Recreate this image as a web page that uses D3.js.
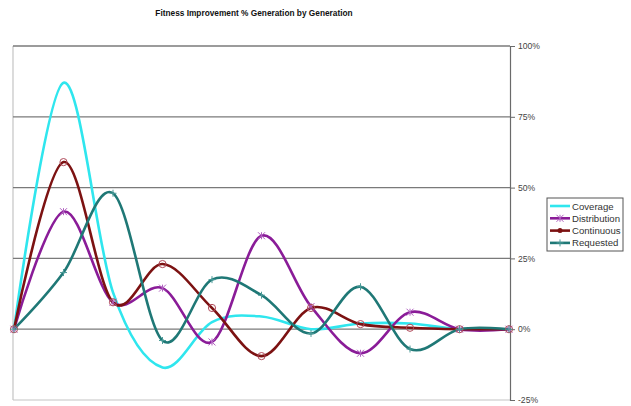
<!DOCTYPE html>
<html>
<head>
<meta charset="utf-8">
<script src="https://cdn.jsdelivr.net/npm/d3@7/dist/d3.min.js"></script>
<style>
  html, body { margin: 0; padding: 0; background: #fff; }
  svg { display: block; font-family: "Liberation Sans", Arial, sans-serif; }
</style>
</head>
<body>
<svg id="chart" width="631" height="406"></svg>
<script>
// Generations 0..10
const generations = [0, 1, 2, 3, 4, 5, 6, 7, 8, 9, 10];

// Fitness improvement (%) per generation for each run type
const coverage     = [0, 87, 13, -13.5, 2.5, 4.5, 0, 2, 2, 0, 0];
const distribution = [0, 41.5, 9.5, 14.5, -4.5, 33, 8, -8.5, 6, 0, 0];
const continuous   = [0, 59, 9.5, 23, 7.5, -9.5, 7.5, 1.8, 0.5, 0, 0];
const requested    = [0, 20, 48, -4, 17.5, 12, -1.5, 15, -7, 0, 0];

const seriesNames  = ["Coverage", "Distribution", "Continuous", "Requested"];
const seriesColors = ["#2fe6ee", "#8a1c98", "#7c1212", "#1f7876"];
const seriesMarkers = ["none", "star", "circle", "plus"];
const yTicks = [-25, 0, 25, 50, 75, 100];

const series = [coverage, distribution, continuous, requested].map((vals, i) => ({
  name: seriesNames[i], color: seriesColors[i], marker: seriesMarkers[i], values: vals
}));

const svg = d3.select("#chart");

const plot = { left: 13, right: 510, top: 46, bottom: 400 };

const x = d3.scalePoint().domain(generations).range([14, 509]);
const y = d3.scaleLinear().domain([-25, 100]).range([plot.bottom, plot.top]);

// Title
svg.append("text")
  .attr("x", 254).attr("y", 16)
  .attr("text-anchor", "middle")
  .attr("font-size", 8.3).attr("font-weight", "bold")
  .attr("fill", "#111")
  .text("Fitness Improvement % Generation by Generation");

// Plot frame: light left/bottom edges
svg.append("line").attr("x1", plot.left).attr("x2", plot.left)
  .attr("y1", plot.top).attr("y2", plot.bottom)
  .attr("stroke", "#c4c4c4").attr("stroke-width", 1.2);
svg.append("line").attr("x1", plot.left).attr("x2", plot.right)
  .attr("y1", plot.bottom).attr("y2", plot.bottom)
  .attr("stroke", "#c4c4c4").attr("stroke-width", 1.2);

// Horizontal gridlines
svg.append("g").selectAll("line")
  .data(yTicks.filter(d => d > -25))
  .join("line")
  .attr("x1", plot.left).attr("x2", plot.right)
  .attr("y1", d => y(d)).attr("y2", d => y(d))
  .attr("stroke", "#7a7a7a").attr("stroke-width", 1.3);

// Right value axis
const axis = svg.append("g")
  .attr("transform", `translate(${plot.right},0)`)
  .call(d3.axisRight(y).tickValues(yTicks).tickSize(5).tickPadding(3)
    .tickFormat(d => d + "%"));
axis.select(".domain").attr("stroke", "#6a6a6a").attr("stroke-width", 1.2);
axis.selectAll(".tick line").attr("stroke", "#6a6a6a");
axis.selectAll(".tick text")
  .attr("font-size", 8.6).attr("fill", "#444")
  .attr("font-family", "'Liberation Sans', Arial, sans-serif");

// Smoothed series lines
const line = d3.line()
  .x((d, i) => x(generations[i]))
  .y(d => y(d))
  .curve(d3.curveCardinal.tension(0));

const gSeries = svg.append("g");
series.forEach(s => {
  gSeries.append("path")
    .datum(s.values)
    .attr("d", line)
    .attr("fill", "none")
    .attr("stroke", s.color)
    .attr("stroke-width", 2.6)
    .attr("stroke-linejoin", "round");
});

// Marker drawing
function drawMarker(g, type, cx, cy, color) {
  if (type === "circle") {
    g.append("circle").attr("cx", cx).attr("cy", cy).attr("r", 3.6)
      .attr("fill", "none").attr("stroke", "#b04a5a").attr("stroke-width", 1);
  } else if (type === "star") {
    const r = 3.5;
    const p = d3.path();
    p.moveTo(cx - r, cy - r); p.lineTo(cx + r, cy + r);
    p.moveTo(cx - r, cy + r); p.lineTo(cx + r, cy - r);
    p.moveTo(cx, cy - r); p.lineTo(cx, cy + r);
    g.append("path").attr("d", p.toString())
      .attr("stroke", "#b060c0").attr("stroke-width", 1).attr("fill", "none");
  } else if (type === "plus") {
    const r = 3.5;
    const p = d3.path();
    p.moveTo(cx, cy - r); p.lineTo(cx, cy + r);
    p.moveTo(cx - r, cy); p.lineTo(cx + r, cy);
    g.append("path").attr("d", p.toString())
      .attr("stroke", "#4a9a98").attr("stroke-width", 1).attr("fill", "none");
  }
}

const gMarkers = svg.append("g");
series.forEach(s => {
  s.values.forEach((v, i) => drawMarker(gMarkers, s.marker, x(generations[i]), y(v), s.color));
});

// Legend
const lg = { x: 547, y: 198, w: 76, h: 53 };
svg.append("clipPath").attr("id", "legendClip")
  .append("rect").attr("x", lg.x).attr("y", lg.y).attr("width", lg.w - 1).attr("height", lg.h);

const legend = svg.append("g");
legend.append("rect")
  .attr("x", lg.x).attr("y", lg.y).attr("width", lg.w).attr("height", lg.h)
  .attr("fill", "#fff").attr("stroke", "#555").attr("stroke-width", 1);

const legendRows = legend.append("g").attr("clip-path", "url(#legendClip)");
series.forEach((s, i) => {
  const ry = lg.y + 8 + i * 12.3;
  legendRows.append("line")
    .attr("x1", lg.x + 3).attr("x2", lg.x + 23)
    .attr("y1", ry).attr("y2", ry)
    .attr("stroke", s.color).attr("stroke-width", 2.6);
  if (s.marker === "circle") {
    legendRows.append("circle").attr("cx", lg.x + 13).attr("cy", ry).attr("r", 2.5)
      .attr("fill", s.color);
  } else if (s.marker !== "none") {
    drawMarker(legendRows, s.marker, lg.x + 13, ry, s.color);
  }
  legendRows.append("text")
    .attr("x", lg.x + 25).attr("y", ry + 3.5)
    .attr("font-size", 9.6).attr("fill", "#333")
    .text(s.name);
});
</script>
</body>
</html>
